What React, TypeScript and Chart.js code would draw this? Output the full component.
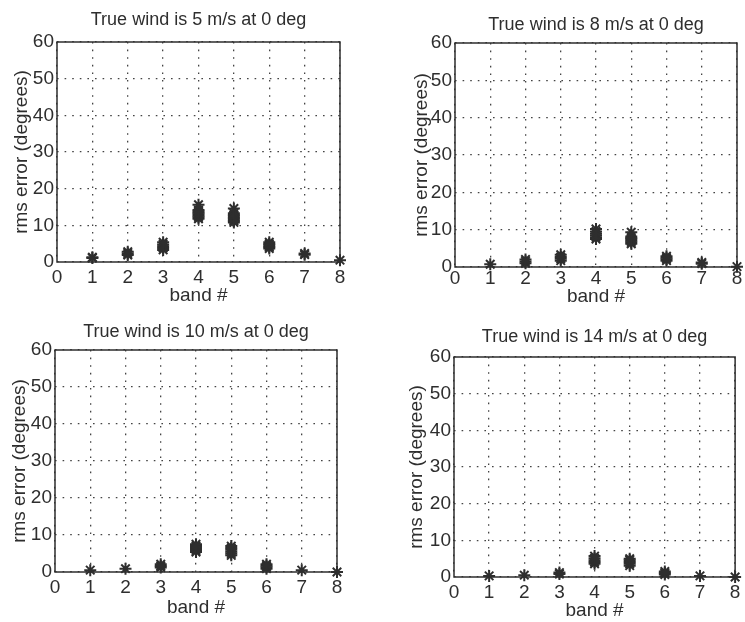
import React, { useEffect, useRef } from "react";
import { Chart, registerables } from "chart.js";

Chart.register(...registerables);

// ---- data ----
const bands = [1, 2, 3, 4, 5, 6, 7, 8];
const bandTickValues = [0, 1, 2, 3, 4, 5, 6, 7, 8];
const errorTickValues = [0, 10, 20, 30, 40, 50, 60];
const windSpeeds = [5, 8, 10, 14];

// rms error samples (degrees) per band 1..8, read from the clusters
const wind5Errors = [
  [1.1, 1.3],
  [1.9, 2.3, 2.8],
  [3.3, 3.8, 4.3, 4.8, 5.4],
  [11.8, 12.2, 12.6, 13.0, 13.4, 13.8, 14.2, 15.6],
  [10.8, 11.2, 11.6, 12.0, 12.4, 12.8, 13.3, 14.6],
  [3.7, 4.1, 4.5, 4.9, 5.4],
  [2.0, 2.3],
  [0.5],
];
const wind8Errors = [
  [0.75],
  [1.0, 1.5, 2.0],
  [1.7, 2.2, 2.7, 3.3],
  [7.5, 8.0, 8.5, 9.0, 9.5, 10.2],
  [6.2, 6.6, 7.0, 7.4, 7.8, 8.2, 9.3],
  [1.7, 2.1, 2.5, 2.9],
  [0.9, 1.2],
  [0.1],
];
const wind10Errors = [
  [0.5],
  [0.9],
  [1.2, 1.6, 2.1],
  [5.4, 5.8, 6.2, 6.6, 7.0, 7.5],
  [4.5, 5.0, 5.5, 6.0, 6.5, 7.0],
  [0.9, 1.3, 1.7, 2.1],
  [0.5],
  [0.0],
];
const wind14Errors = [
  [0.3],
  [0.5],
  [0.8, 1.2],
  [3.6, 4.1, 4.6, 5.1, 5.7],
  [3.1, 3.6, 4.1, 4.6, 5.0],
  [0.7, 1.1, 1.5],
  [0.3],
  [0.0],
];
const allErrors = [wind5Errors, wind8Errors, wind10Errors, wind14Errors];

// ---- layout (page pixel positions) ----
type PanelLayout = {
  cl: number; ct: number; cw: number; ch: number;
  l: number; t: number; r: number; b: number;
  titleY: number; xTickY: number; xLabelY: number; yLabelX: number;
};
const layouts: PanelLayout[] = [
  { cl: 0, ct: 0, cw: 372, ch: 305, l: 57, t: 42, r: 340, b: 262, titleY: 20, xTickY: 278, xLabelY: 296, yLabelX: 22 },
  { cl: 372, ct: 0, cw: 373, ch: 311, l: 455, t: 43, r: 740, b: 267, titleY: 25, xTickY: 279, xLabelY: 297, yLabelX: 422 },
  { cl: 0, ct: 305, cw: 372, ch: 317, l: 55, t: 350, r: 337, b: 572, titleY: 332, xTickY: 588, xLabelY: 608, yLabelX: 20 },
  { cl: 372, ct: 311, cw: 373, ch: 311, l: 454, t: 357, r: 739, b: 577, titleY: 337, xTickY: 593, xLabelY: 611, yLabelX: 417 },
];

const FONT = "'Liberation Sans', Arial, Helvetica, sans-serif";
const INK = "#2e2e2e";
const TITLE_SIZE = 18;
const TICK_SIZE = 19;
const LABEL_SIZE = 19;

const boxPlugin = {
  id: "boxPlugin",
  afterDatasetsDraw(chart: any) {
    const { ctx, chartArea } = chart;
    ctx.save();
    ctx.strokeStyle = INK;
    ctx.lineWidth = 1.5;
    ctx.setLineDash([]);
    ctx.strokeRect(chartArea.left, chartArea.top, chartArea.right - chartArea.left, chartArea.bottom - chartArea.top);
    ctx.restore();
  },
};

function Panel({ idx }: { idx: number }) {
  const ref = useRef<HTMLCanvasElement>(null);
  const L = layouts[idx];
  useEffect(() => {
    if (!ref.current) return;
    const errs = allErrors[idx];
    const points = bands.flatMap((b, i) => errs[i].map((v) => ({ x: b, y: v })));
    const titleLH = TITLE_SIZE * 1.2;
    const titleTop = L.titleY - L.ct - titleLH / 2;
    const titleBottom = L.t - L.ct - titleLH - titleTop;
    const tickLH = TICK_SIZE * 1.2;
    const labelLH = LABEL_SIZE * 1.2;
    const chart = new Chart(ref.current, {
      type: "scatter",
      data: {
        datasets: [
          {
            data: points,
            pointStyle: "star",
            pointRadius: 6,
            pointBorderWidth: 2,
            borderColor: INK,
            backgroundColor: INK,
            clip: false,
          },
        ],
      },
      options: {
        animation: false,
        responsive: false,
        events: [],
        layout: { padding: { left: 0, top: 0, bottom: 0, right: L.cw - (L.r - L.cl) } },
        plugins: {
          legend: { display: false },
          tooltip: { enabled: false },
          title: {
            display: true,
            text: `True wind is ${windSpeeds[idx]} m/s at 0 deg`,
            color: INK,
            fullSize: false,
            font: { family: FONT, size: TITLE_SIZE, weight: "normal", lineHeight: 1.2 },
            padding: { top: titleTop, bottom: titleBottom },
          },
        },
        scales: {
          x: {
            type: "linear",
            min: 0,
            max: 8,
            afterBuildTicks: (s: any) => { s.ticks = bandTickValues.map((v) => ({ value: v })); },
            afterFit: (s: any) => { s.height = L.ct + L.ch - L.b; },
            ticks: {
              color: INK,
              font: { family: FONT, size: TICK_SIZE, lineHeight: 1.2 },
              padding: L.xTickY - L.b - tickLH / 2,
              maxRotation: 0,
              autoSkip: false,
            },
            grid: { color: "#444", lineWidth: 1.3, drawTicks: false },
            border: { display: false, dash: [1.6, 6] },
            title: {
              display: true,
              text: "band #",
              color: INK,
              font: { family: FONT, size: LABEL_SIZE, lineHeight: 1.2 },
              padding: { top: 0, bottom: L.ct + L.ch - L.xLabelY - labelLH / 2 },
            },
          },
          y: {
            type: "linear",
            min: 0,
            max: 60,
            afterBuildTicks: (s: any) => { s.ticks = errorTickValues.map((v) => ({ value: v })); },
            afterFit: (s: any) => { s.width = L.l - L.cl; },
            ticks: {
              color: INK,
              font: { family: FONT, size: TICK_SIZE, lineHeight: 1.2 },
              padding: 3,
              autoSkip: false,
            },
            grid: { color: "#444", lineWidth: 1.3, drawTicks: false },
            border: { display: false, dash: [1.6, 6] },
            title: {
              display: true,
              text: "rms error (degrees)",
              color: INK,
              font: { family: FONT, size: LABEL_SIZE, lineHeight: 1.2 },
              padding: { top: L.yLabelX - L.cl - labelLH / 2, bottom: 0 },
            },
          },
        },
      },
      plugins: [boxPlugin],
    } as any);
    return () => chart.destroy();
  }, [idx]);
  return (
    <canvas
      ref={ref}
      width={L.cw}
      height={L.ch}
      style={{ position: "absolute", left: L.cl, top: L.ct, width: L.cw, height: L.ch, display: "block" }}
    />
  );
}

export default function App() {
  return (
    <div style={{ position: "absolute", left: 0, top: 0, width: 745, height: 622, background: "#ffffff", overflow: "hidden" }}>
      {[0, 1, 2, 3].map((i) => (
        <Panel key={i} idx={i} />
      ))}
    </div>
  );
}
